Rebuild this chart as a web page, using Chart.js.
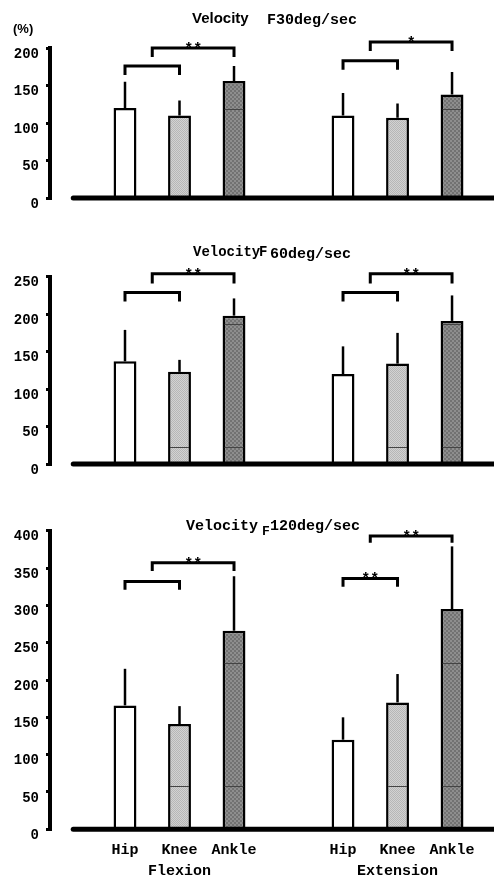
<!DOCTYPE html>
<html>
<head>
<meta charset="utf-8">
<script src="https://cdn.jsdelivr.net/npm/chart.js@4/dist/chart.umd.min.js"></script>
<style>
  body { margin: 0; background: #fff; }
  #wrap { position: relative; width: 494px; height: 877px; }
  canvas { position: absolute; left: 0; }
</style>
</head>
<body>
<div id="wrap">
  <canvas id="c30" width="494" height="222" style="top:0px"></canvas>
  <canvas id="c60" width="494" height="258" style="top:230px"></canvas>
  <canvas id="c120" width="494" height="377" style="top:500px"></canvas>
</div>
<script>
// categories along the x axis (index 3 is the gap between the two groups)
const joints = ['Hip', 'Knee', 'Ankle', '', 'Hip', 'Knee', 'Ankle'];
const groups = ['Flexion', 'Extension'];
const groupAt = [1, 5];
const barAt = [0, 1, 2, 4, 5, 6];

// means (%) and top of the SD bars, order: flex hip/knee/ankle, ext hip/knee/ankle
const mean30 = [120, 110, 156, 110, 107, 138];
const sd30 = [155, 130, 176, 140, 126, 168];
const mean60 = [137, 123, 198, 120, 134, 191];
const sd60 = [179, 139, 221, 157, 175, 225];
const mean120 = [166, 141, 266, 120, 170, 295];
const sd120 = [215, 165, 339, 150, 208, 379];

// y tick ranges
const yMax = [200, 250, 400];
const yStep = 50;

// significance brackets: [from, to, level, legEnd, stars]
const br30 = [[0, 1, 176, 164, ''], [0.5, 2, 200, 188, '**'], [4, 5, 183, 171, ''], [4.5, 6, 208, 196, '*']];
const br60 = [[0, 1, 229, 217, ''], [0.5, 2, 254, 241, '**'], [4, 5, 229, 217, ''], [4.5, 6, 254, 241, '**']];
const br120 = [[0, 1, 332, 321, ''], [0.5, 2, 357, 346, '**'], [4, 5, 336, 325, '**'], [4.5, 6, 393, 384, '**']];

// thin seams visible inside the textured bars: [value, bar indices]
const seam30 = [[119, [2, 5]]];
const seam60 = [[187, [2, 5]], [23, [1, 2, 4, 5]]];
const seam120 = [[223, [2, 5]], [58, [1, 2, 4, 5]]];

const MONO = '"Liberation Mono", "Courier New", monospace';
const SANS = '"Liberation Sans", Arial, sans-serif';

function checker(a, b, s) {
    const p = document.createElement('canvas');
    p.width = p.height = s * 2;
    const g = p.getContext('2d');
    g.fillStyle = a; g.fillRect(0, 0, s * 2, s * 2);
    g.fillStyle = b; g.fillRect(0, 0, s, s); g.fillRect(s, s, s, s);
    return g.createPattern(p, 'repeat');
}

const kneeFill = checker('#d2d2d2', '#b6b6b6', 1);
const ankleFill = checker('#8e8e8e', '#727272', 2);
const fills = ['#ffffff', kneeFill, ankleFill, '#ffffff', kneeFill, ankleFill];

const extras = {
    id: 'extras',
    afterDatasetsDraw(chart, args, o) {
        const ctx = chart.ctx;
        const xs = chart.scales.x, ys = chart.scales.y;
        const bars = chart.getDatasetMeta(0).data;
        ctx.save();
        // seams
        ctx.strokeStyle = '#444';
        ctx.lineWidth = 1;
        o.seams.forEach(([v, idx]) => {
            const y = Math.round(ys.getPixelForValue(v)) + 0.5;
            idx.forEach(i => {
                const b = bars[i];
                ctx.beginPath();
                ctx.moveTo(b.x - b.width / 2 + 2, y);
                ctx.lineTo(b.x + b.width / 2 - 2, y);
                ctx.stroke();
            });
        });
        // error bars (upper only)
        ctx.strokeStyle = '#000';
        ctx.lineWidth = 2.5;
        o.sd.forEach((v, i) => {
            const x = xs.getPixelForValue(barAt[i]);
            ctx.beginPath();
            ctx.moveTo(x, ys.getPixelForValue(o.mean[i]));
            ctx.lineTo(x, ys.getPixelForValue(v));
            ctx.stroke();
        });
        // baseline
        ctx.lineWidth = 5;
        ctx.lineCap = 'round';
        const y0 = ys.getPixelForValue(0);
        ctx.beginPath();
        ctx.moveTo(xs.getPixelForValue(-0.95), y0);
        ctx.lineTo(chart.chartArea.right, y0);
        ctx.stroke();
        // brackets
        ctx.lineWidth = 3;
        ctx.lineCap = 'butt';
        ctx.lineJoin = 'miter';
        ctx.fillStyle = '#000';
        ctx.font = 'bold 15px ' + MONO;
        ctx.textAlign = 'center';
        ctx.textBaseline = 'alphabetic';
        o.brackets.forEach(([a, b, lvl, leg, stars]) => {
            const x1 = xs.getPixelForValue(a), x2 = xs.getPixelForValue(b);
            const y = ys.getPixelForValue(lvl), yl = ys.getPixelForValue(leg);
            ctx.beginPath();
            ctx.moveTo(x1, yl);
            ctx.lineTo(x1, y);
            ctx.lineTo(x2, y);
            ctx.lineTo(x2, yl);
            ctx.stroke();
            if (stars) ctx.fillText(stars, (x1 + x2) / 2, y + 5);
        });
        // title
        ctx.textAlign = 'left';
        o.title.forEach(([txt, font, x, y]) => {
            ctx.font = font;
            ctx.fillText(txt, x, y);
        });
        ctx.restore();
    }
};

function makeChart(id, mean, sd, max, padTop, brackets, seams, title, showX) {
    const config = {
        type: 'bar',
        data: {
            datasets: [{
                data: mean.map((v, i) => ({ x: barAt[i], y: v })),
                backgroundColor: fills,
                borderColor: '#000',
                borderWidth: 2.5,
                borderSkipped: 'bottom',
                barPercentage: 0.42,
                categoryPercentage: 1
            }]
        },
        options: {
            responsive: false,
            animation: false,
            layout: { padding: { top: padTop, bottom: showX ? 0 : 24, left: 0, right: 0 } },
            plugins: {
                legend: { display: false },
                tooltip: { enabled: false },
                extras: { mean: mean, sd: sd, brackets: brackets, seams: seams, title: title }
            },
            scales: {
                x: {
                    type: 'linear',
                    display: showX,
                    offset: false,
                    min: -1.376,
                    max: 6.77,
                    afterBuildTicks: s => { s.ticks = barAt.map(v => ({ value: v })); },
                    afterFit: s => { s.height = showX ? 47.7 : 0; },
                    grid: { display: false, drawTicks: false },
                    border: { display: false },
                    ticks: {
                        padding: 10,
                        color: '#000',
                        maxRotation: 0,
                        autoSkip: false,
                        font: { family: MONO, size: 15, weight: 'bold', lineHeight: 1.4 },
                        callback: v => {
                            const g = groupAt.indexOf(v);
                            return g >= 0 ? [joints[v], groups[g]] : joints[v];
                        }
                    }
                },
                y: {
                    min: 0,
                    max: max,
                    afterFit: s => { s.width = 50; },
                    border: { display: true, color: '#000', width: 4 },
                    grid: { drawOnChartArea: false, drawTicks: true, tickLength: 4, lineWidth: 3, color: '#000' },
                    ticks: {
                        stepSize: yStep,
                        padding: 7,
                        labelOffset: 6,
                        color: '#000',
                        font: { family: MONO, size: 14, weight: 'bold' }
                    }
                }
            }
        },
        plugins: [extras]
    };
    return new Chart(document.getElementById(id), config);
}

makeChart('c30', mean30, sd30, yMax[0], 48, br30, seam30, [
    ['(%)', 'bold 13px ' + SANS, 13, 33],
    ['Velocity', 'bold 15px ' + SANS, 192, 23],
    ['F30deg/sec', 'bold 15px ' + MONO, 267, 24]
], false);

makeChart('c60', mean60, sd60, yMax[1], 46.7, br60, seam60, [
    ['Velocity', 'bold 14px ' + MONO, 193, 26],
    ['F', 'bold 14px ' + MONO, 259, 26],
    ['60deg/sec', 'bold 15px ' + MONO, 270, 28]
], false);

makeChart('c120', mean120, sd120, yMax[2], 30.7, br120, seam120, [
    ['Velocity', 'bold 15px ' + MONO, 186, 30],
    ['F', 'bold 13px ' + MONO, 262, 35],
    ['120deg/sec', 'bold 15px ' + MONO, 270, 30]
], true);
</script>
</body>
</html>
